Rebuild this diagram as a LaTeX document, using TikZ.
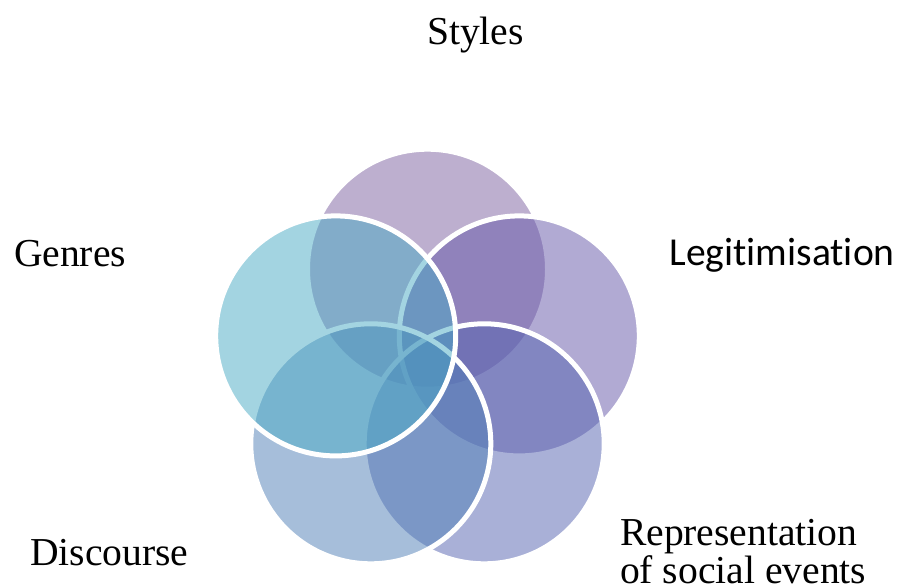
\documentclass[tikz,border=0pt]{standalone}
\usepackage{fontspec}
\setmainfont{Liberation Serif}
\newfontfamily\calibrifont[Ligatures=NoCommon]{Carlito}
\definecolor{ctop}{RGB}{125,97,161}
\definecolor{cright}{RGB}{101,87,169}
\definecolor{cbr}{RGB}{85,99,177}
\definecolor{cbl}{RGB}{79,127,183}
\definecolor{cleft}{RGB}{73,171,197}
\tikzset{
  venn/.style={fill opacity=0.5, draw=white, draw opacity=1, line width=5pt},
  lbl/.style={inner sep=0pt, outer sep=0pt, anchor=base west, font=\fontsize{39.6}{38}\selectfont},
}
\begin{document}
\begin{tikzpicture}[x=1pt,y=-1pt]
\fill[white] (0,0) rectangle (904,588);
\useasboundingbox (0,0) rectangle (904,588);
\coordinate (ctr) at (427.5,365.7);
\path[venn, fill=ctop]   (427.5,269.2) circle[radius=120pt];
\path[venn, fill=cright] (519.3,335.9) circle[radius=120pt];
\path[venn, fill=cbr]    (484.2,443.8) circle[radius=120pt];
\path[venn, fill=cbl]    (370.8,443.8) circle[radius=120pt];
\path[venn, fill=cleft]  (335.7,335.9) circle[radius=120pt];
\node[lbl] (styles) at (427,45) {Styles};
\node[lbl] (genres) at (14,266) {Genres};
\node[lbl, font=\calibrifont\fontsize{39.6}{38}\selectfont] (legit) at (669.5,265) {Legitimisation};
\node[lbl, align=left] (repr) at (620,583) {Representation\\of social events};
\node[lbl] (disc) at (30,565) {Discourse};
\end{tikzpicture}
\end{document}
